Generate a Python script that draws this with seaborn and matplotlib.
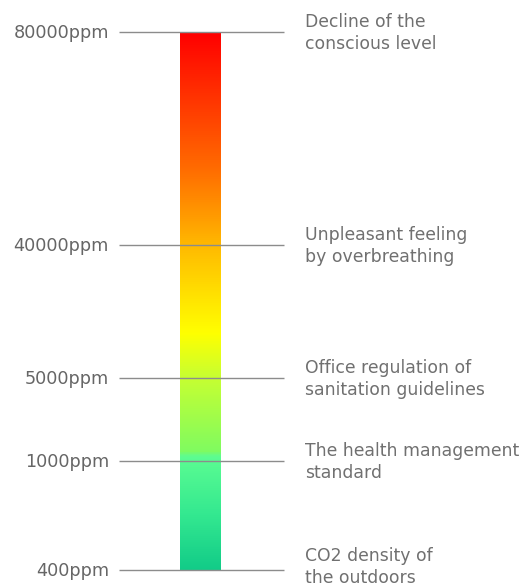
import matplotlib.pyplot as plt
import numpy as np
import seaborn as sns
from matplotlib.colors import LinearSegmentedColormap

# --- Data ---
ppm_levels = [80000, 40000, 5000, 1000, 400]
level_labels = ['80000ppm', '40000ppm', '5000ppm', '1000ppm', '400ppm']
level_notes = [
    'Decline of the\nconscious level',
    'Unpleasant feeling\nby overbreathing',
    'Office regulation of\nsanitation guidelines',
    'The health management\nstandard',
    'CO2 density of\nthe outdoors',
]

# --- Layout (illustrative, not to scale) ---
level_y = [32, 245, 378, 461, 570]   # vertical position of each level, top-down
bar_left, bar_right = 180, 221
line_left, line_right = 119, 284
label_x, note_x = 109, 305

# gradient stops, top (0) to bottom (1)
grad_stops = [
    (0.00, '#ff0000'),
    (0.12, '#ff3300'),
    (0.25, '#ff6a00'),
    (0.34, '#ff9a00'),
    (0.40, '#ffbb00'),
    (0.50, '#ffe600'),
    (0.56, '#ffff00'),
    (0.64, '#c8ff30'),
    (0.78, '#80fb60'),
    (0.79, '#5cfd92'),
    (0.90, '#33e890'),
    (1.00, '#12cc88'),
]

sns.set_style('white')
plt.rcParams['font.family'] = ['DejaVu Sans']

fig = plt.figure(figsize=(5.30, 5.88), dpi=100)
ax = fig.add_axes([0, 0, 1, 1])
ax.set_xlim(0, 530)
ax.set_ylim(588, 0)
ax.axis('off')

cmap = LinearSegmentedColormap.from_list('co2', grad_stops)
grad = np.linspace(0, 1, 512).reshape(-1, 1)
ax.imshow(grad, cmap=cmap, aspect='auto', interpolation='bilinear',
          extent=[bar_left, bar_right, level_y[-1], level_y[0]], zorder=1)

ax.hlines(level_y, line_left, line_right, color='#8c8c8c', linewidth=1.0, zorder=2)

for i, (y, lab, note) in enumerate(zip(level_y, level_labels, level_notes)):
    ax.text(label_x, y + 1, lab, ha='right', va='center', fontsize=12.7, color='#666666')
    # last note sits slightly higher so it stays inside the figure
    ny = y + 1 if i < len(level_y) - 1 else y - 3
    ax.text(note_x, ny, note, ha='left', va='center', fontsize=12.4,
            color='#707070', linespacing=1.3)

fig.savefig('out.png', dpi=100)
